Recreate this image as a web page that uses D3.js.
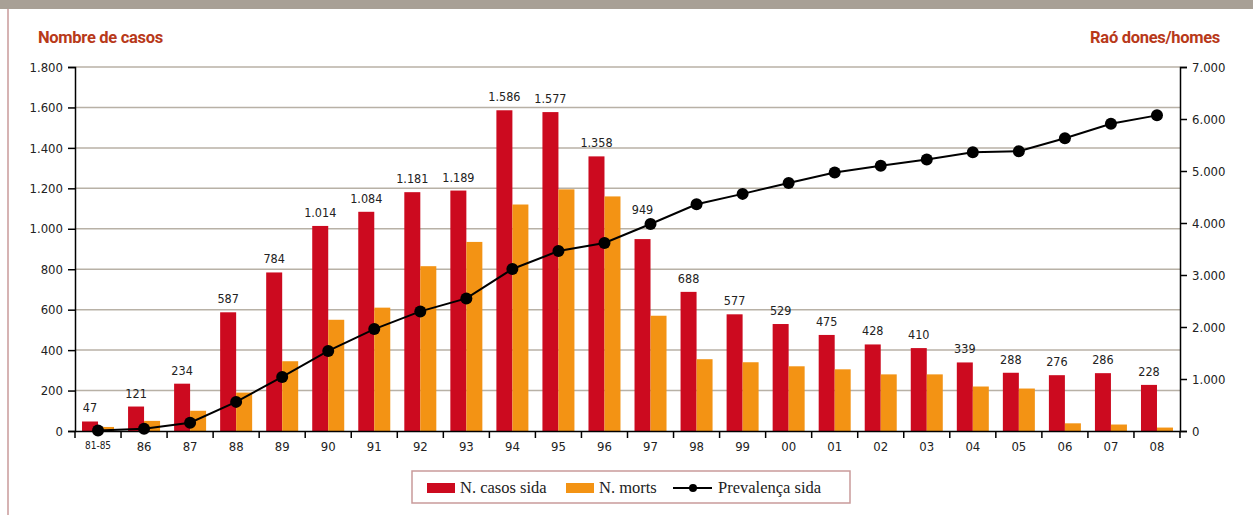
<!DOCTYPE html>
<html>
<head>
<meta charset="utf-8">
<script src="https://cdn.jsdelivr.net/npm/d3@7"></script>
<style>
  body { margin: 0; background: #fff; }
  svg { display: block; }
</style>
</head>
<body>
<div id="main"></div>
<script>
// Data
const years = ["81-85", "86", "87", "88", "89", "90", "91", "92", "93", "94", "95", "96",
  "97", "98", "99", "00", "01", "02", "03", "04", "05", "06", "07", "08"];
const casos = [47, 121, 234, 587, 784, 1014, 1084, 1181, 1189, 1586, 1577, 1358,
  949, 688, 577, 529, 475, 428, 410, 339, 288, 276, 286, 228];
const morts = [20, 50, 100, 190, 345, 550, 610, 815, 935, 1120, 1195, 1160,
  570, 355, 340, 320, 305, 280, 280, 220, 210, 38, 32, 17];
const prevalenca = [10, 45, 160, 560, 1040, 1540, 1960, 2300, 2550, 3115, 3460, 3615,
  3980, 4360, 4560, 4770, 4970, 5100, 5220, 5360, 5380, 5630, 5910, 6070];
const leftTicks = [0, 200, 400, 600, 800, 1000, 1200, 1400, 1600, 1800];
const rightTicks = [0, 1000, 2000, 3000, 4000, 5000, 6000, 7000];

// Layout config
const width = 1253;
const height = 515;
const margin = { top: 67, right: 73, bottom: 84, left: 75 };
const innerWidth = width - margin.left - margin.right;
const innerHeight = height - margin.top - margin.bottom;

const red = "#cc0a1f";
const orange = "#f39314";
const titleColor = "#b8391a";
const sansFont = "'DejaVu Sans Condensed', Roboto, sans-serif";
const fmt = (v) => d3.format(",")(v).replace(/,/g, ".");

const svg = d3.select("#main").append("svg")
  .attr("width", width)
  .attr("height", height);

// Frame decorations
svg.append("rect").attr("x", 0).attr("y", 0).attr("width", width).attr("height", 9).attr("fill", "#a8a096");
svg.append("line").attr("x1", 8).attr("x2", 8).attr("y1", 9).attr("y2", height)
  .attr("stroke", "#c99a9a").attr("stroke-width", 1.5);

svg.append("text")
  .attr("x", 38).attr("y", 43)
  .attr("font-family", "Roboto, sans-serif").attr("font-weight", "bold")
  .attr("font-size", 16.5).attr("letter-spacing", -0.3)
  .attr("fill", titleColor)
  .text("Nombre de casos");
svg.append("text")
  .attr("x", 1220).attr("y", 43).attr("text-anchor", "end")
  .attr("font-family", "Roboto, sans-serif").attr("font-weight", "bold")
  .attr("font-size", 16.5).attr("letter-spacing", -0.3)
  .attr("fill", titleColor)
  .text("Raó dones/homes");

const g = svg.append("g").attr("transform", `translate(${margin.left},${margin.top})`);

// Scales
const x = d3.scaleBand().domain(years).range([0, innerWidth]);
const y = d3.scaleLinear().domain([0, 1800]).range([innerHeight, 0]);
const y2 = d3.scaleLinear().domain([0, 7000]).range([innerHeight, 0]);
const barW = 16;
const cx = (d) => x(d) + x.bandwidth() / 2;

// Grid
g.append("g").selectAll("line")
  .data(leftTicks.filter((d) => d > 0))
  .join("line")
  .attr("x1", 0).attr("x2", innerWidth)
  .attr("y1", (d) => y(d)).attr("y2", (d) => y(d))
  .attr("stroke", "#b8b1a6").attr("stroke-width", 1.5);

// Bars
g.append("g").selectAll("rect")
  .data(years)
  .join("rect")
  .attr("x", (d) => cx(d) - barW)
  .attr("y", (d, i) => y(casos[i]))
  .attr("width", barW)
  .attr("height", (d, i) => innerHeight - y(casos[i]))
  .attr("fill", red);

g.append("g").selectAll("rect")
  .data(years)
  .join("rect")
  .attr("x", (d) => cx(d))
  .attr("y", (d, i) => y(morts[i]))
  .attr("width", barW)
  .attr("height", (d, i) => innerHeight - y(morts[i]))
  .attr("fill", orange);

// Value labels (lifted above the line marker when it sits just over the bar)
g.append("g").selectAll("text")
  .data(years)
  .join("text")
  .attr("x", (d) => cx(d) - barW / 2)
  .attr("y", (d, i) => {
    const above = y(casos[i]) - 9;
    const pt = y2(prevalenca[i]);
    return pt < y(casos[i]) && pt > above - 14 ? pt - 10 : above;
  })
  .attr("text-anchor", "middle")
  .attr("font-family", sansFont)
  .attr("font-size", 12.5)
  .attr("fill", "#222")
  .text((d, i) => fmt(casos[i]));

// Line
const line = d3.line()
  .x((d, i) => cx(years[i]))
  .y((d) => y2(d));
g.append("path")
  .datum(prevalenca)
  .attr("fill", "none")
  .attr("stroke", "#000")
  .attr("stroke-width", 2)
  .attr("d", line);
g.append("g").selectAll("circle")
  .data(prevalenca)
  .join("circle")
  .attr("cx", (d, i) => cx(years[i]))
  .attr("cy", (d) => y2(d))
  .attr("r", 6)
  .attr("fill", "#000");

// Axes
const yAxis = g.append("g")
  .call(d3.axisLeft(y).tickValues(leftTicks).tickFormat(fmt).tickSize(7).tickPadding(5));
const y2Axis = g.append("g")
  .attr("transform", `translate(${innerWidth},0)`)
  .call(d3.axisRight(y2).tickValues(rightTicks).tickFormat(fmt).tickSize(7).tickPadding(5));
const xAxis = g.append("g")
  .attr("transform", `translate(0,${innerHeight})`)
  .call(d3.axisBottom(x).tickSize(0).tickPadding(11));

[yAxis, y2Axis, xAxis].forEach((a) => {
  a.attr("font-family", sansFont).attr("font-size", 13);
  a.select(".domain").attr("stroke-width", 1.5);
  a.selectAll(".tick line").attr("stroke-width", 1.5);
  a.selectAll(".tick text").attr("fill", "#222");
});
xAxis.selectAll(".tick text").filter((d) => d === "81-85").attr("font-size", 10);

// x tick marks on band boundaries
g.append("g").selectAll("line")
  .data(years.concat([null]))
  .join("line")
  .attr("x1", (d) => (d === null ? innerWidth : x(d)))
  .attr("x2", (d) => (d === null ? innerWidth : x(d)))
  .attr("y1", innerHeight).attr("y2", innerHeight + 7)
  .attr("stroke", "#000").attr("stroke-width", 1.5);

// Legend
const legend = svg.append("g").attr("transform", "translate(412,471)");
legend.append("rect")
  .attr("width", 438).attr("height", 32)
  .attr("fill", "#fff").attr("stroke", "#c99a9a").attr("stroke-width", 1.5);
const lf = (sel) => sel.attr("font-family", "'Liberation Serif', serif").attr("font-size", 16.5).attr("fill", "#222");
legend.append("rect").attr("x", 15).attr("y", 12).attr("width", 28).attr("height", 10).attr("fill", red);
legend.append("text").attr("x", 48).attr("y", 22).call(lf).text("N. casos sida");
legend.append("rect").attr("x", 154).attr("y", 12).attr("width", 28).attr("height", 10).attr("fill", orange);
legend.append("text").attr("x", 187).attr("y", 22).call(lf).text("N. morts");
legend.append("line").attr("x1", 261).attr("x2", 300).attr("y1", 17).attr("y2", 17)
  .attr("stroke", "#000").attr("stroke-width", 2);
legend.append("circle").attr("cx", 281).attr("cy", 17).attr("r", 4).attr("fill", "#000");
legend.append("text").attr("x", 306).attr("y", 22).call(lf).text("Prevalença sida");
</script>
</body>
</html>
